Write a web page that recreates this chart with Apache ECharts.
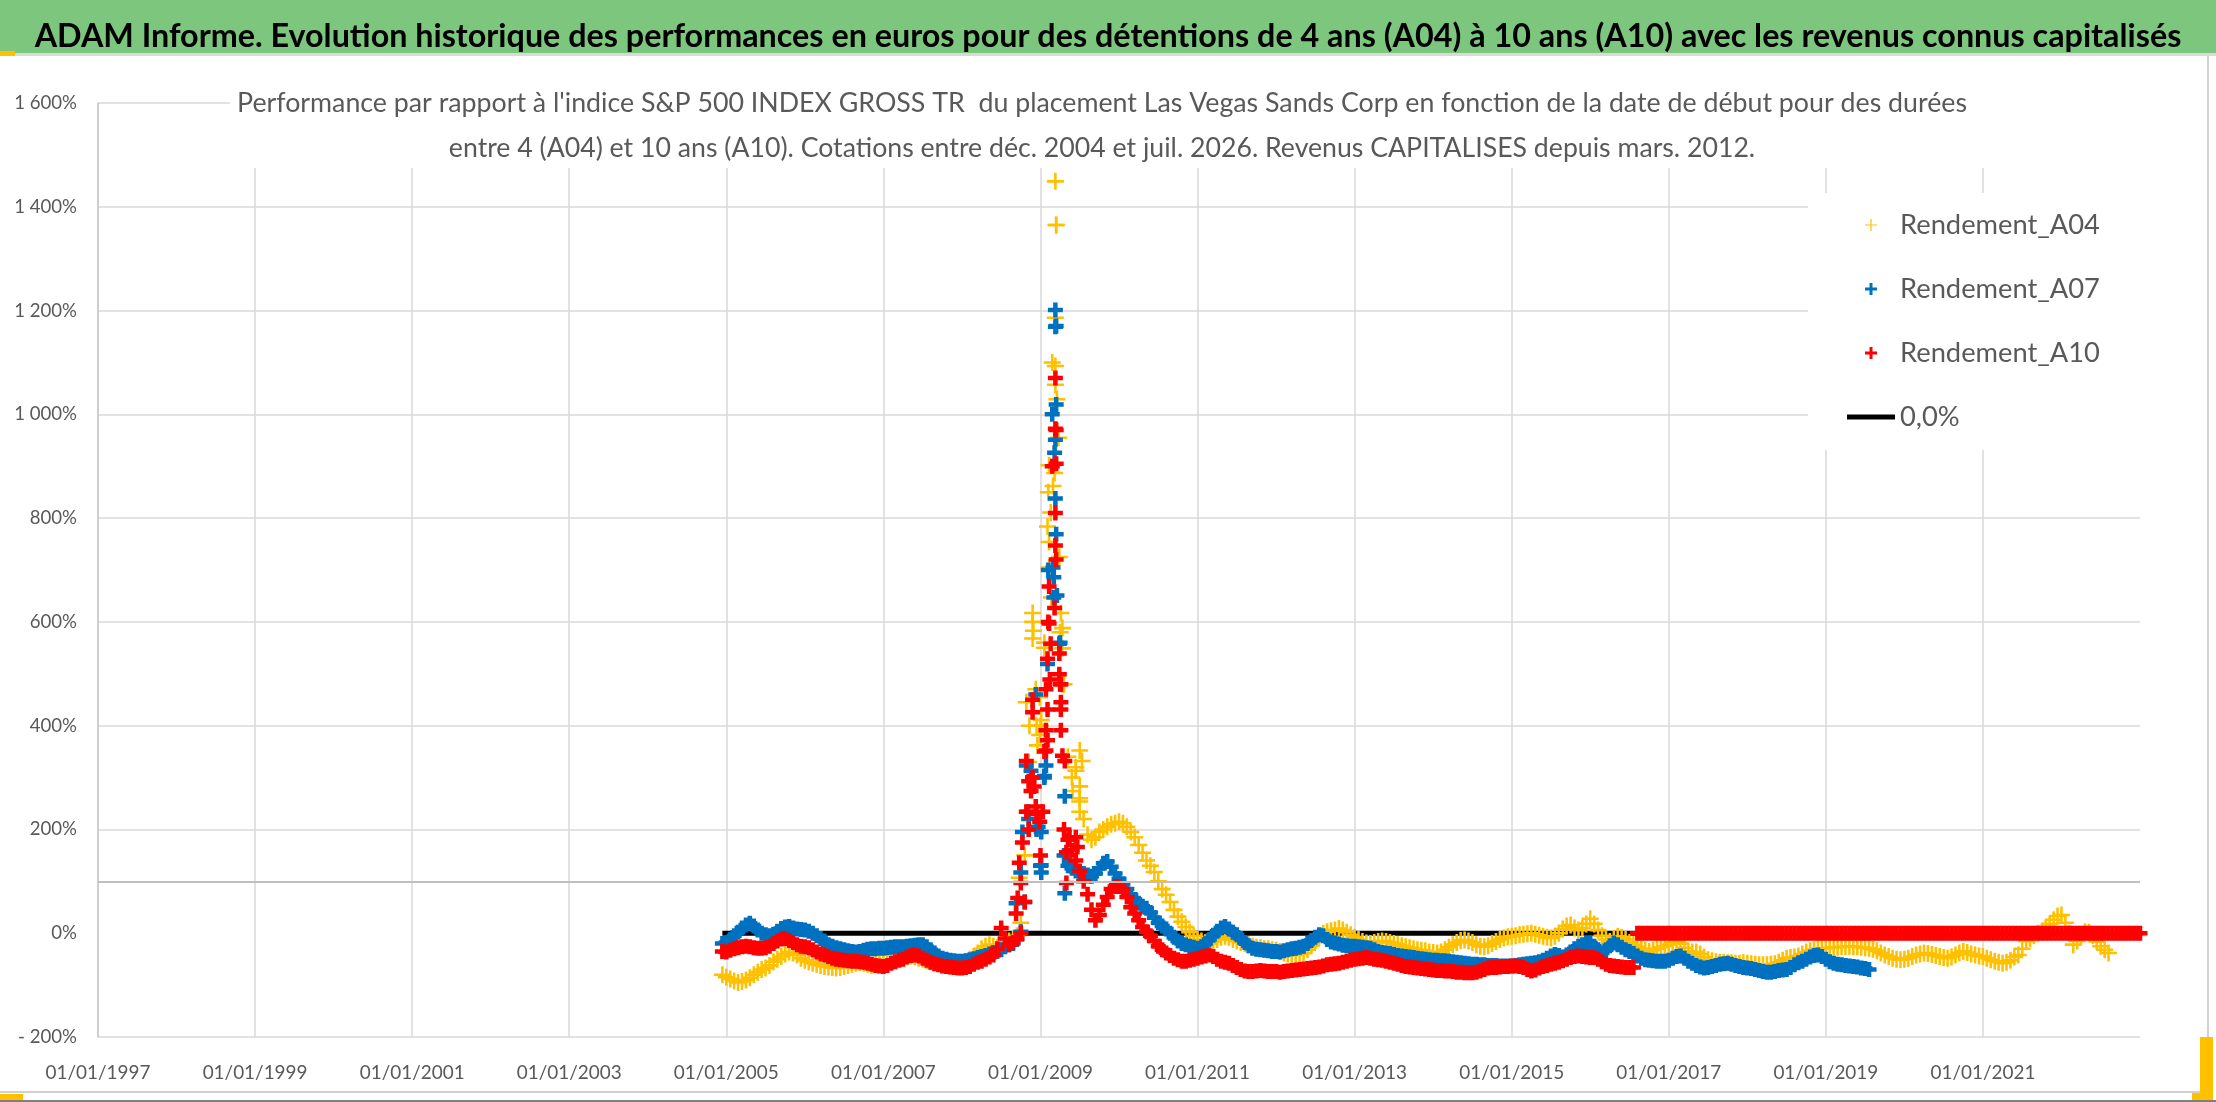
<!DOCTYPE html>
<html>
<head>
<meta charset="utf-8">
<script src="https://cdn.jsdelivr.net/npm/echarts@6/dist/echarts.min.js"></script>
<style>html,body{margin:0;padding:0;background:#fff;}#chart{width:2216px;height:1102px;}</style>
</head>
<body>
<div id="chart"></div>
<script>
// ---------- texts ----------
const TITLE = "ADAM Informe. Evolution historique des performances en euros pour des détentions de 4 ans (A04) à 10 ans (A10) avec les revenus connus capitalisés";
const SUB1 = "Performance par rapport à l'indice S&P 500 INDEX GROSS TR  du placement Las Vegas Sands Corp en fonction de la date de début pour des durées";
const SUB2 = "entre 4 (A04) et 10 ans (A10). Cotations entre déc. 2004 et juil. 2026. Revenus CAPITALISES depuis mars. 2012.";
const SERIES_NAMES = ["Rendement_A04", "Rendement_A07", "Rendement_A10", "0,0%"];

// ---------- axes ----------
const X_MIN = 1997, X_MAX = 2023, X_STEP = 2;
const Y_MIN = -200, Y_MAX = 1600, Y_STEP = 200;

// ---------- data: start dates every 0.05 year from 2004.95 ----------
const START = 2004.95, STEP = 0.05;

const a04 = [
 -80,
 -85,-88,-92,-95,-93,-90,-86,-80,-75,-70,-67,-62,-55,-50,-45,-40,-36,-38,-42,-48,   // 2005
 -52,-55,-58,-60,-62,-64,-65,-66,-67,-66,-64,-62,-60,-58,-57,-58,-60,-62,-60,-58,   // 2006
 -56,-55,-52,-50,-48,-46,-45,-44,-46,-48,-50,-53,-55,-57,-58,-60,-62,-63,-62,-60,   // 2007
 -58,-55,-50,-45,-38,-30,-25,-22,-25,-28,-22,-18,-15,-12,-5,20,150,330,600,400,     // 2008
 400,550,850,1100,1365,580,480,340,300,320,260,220,190,180,185,195,200,205,210,212, // 2009
 215,212,205,195,185,170,155,140,130,118,100,85,74,60,45,32,22,12,2,-5,            // 2010
 -12,-15,-18,-20,-16,-12,-8,-6,-8,-12,-15,-18,-20,-22,-25,-27,-28,-30,-30,-32,      // 2011
 -33,-35,-38,-40,-42,-42,-40,-38,-32,-24,-14,-6,0,3,5,6,9,6,2,-3,                   // 2012
 -8,-12,-16,-19,-20,-18,-16,-15,-16,-18,-20,-22,-24,-26,-28,-30,-32,-33,-34,-36,    // 2013
 -37,-38,-36,-32,-27,-22,-18,-14,-13,-15,-18,-22,-25,-26,-24,-20,-16,-12,-9,-7,     // 2014
 -6,-5,-3,-2,-1,0,-2,-4,-6,-8,-9,-6,0,8,14,16,10,6,10,18,                           // 2015
 28,18,6,-5,-12,-16,-10,-6,-8,-12,-18,-22,-26,-30,-33,-35,-33,-30,-27,-25,          // 2016
 -22,-19,-16,-20,-28,-35,-36,-36,-40,-46,-51,-53,-55,-56,-56,-57,-57,-58,-58,-57,   // 2017
 -58,-59,-60,-61,-61,-61,-60,-59,-56,-52,-48,-47,-46,-44,-40,-36,-34,-32,-30,-29,   // 2018
 -29,-28,-27,-27,-26,-26,-25,-26,-26,-27,-28,-29,-31,-34,-38,-42,-45,-48,-50,-51,   // 2019
 -50,-48,-45,-42,-40,-38,-39,-41,-43,-45,-47,-48,-46,-42,-38,-35,-37,-40,-42,-44,   // 2020
 -45,-48,-51,-54,-56,-58,-56,-52,-46,-42,-30,-15,-10,-5,0,3,10,18,26,33,            // 2021
 35,20,0,-22,-15,-5,3,2,-5,-16,-25,-32,-38                                          // 2022
];

const a07 = [
 -20,
 -18,-12,-5,2,10,16,19,14,6,0,-3,-5,-2,4,9,12,13,10,8,7,                            // 2005
 6,4,0,-5,-10,-15,-22,-25,-28,-30,-32,-34,-35,-36,-35,-33,-31,-30,-30,-29,          // 2006
 -29,-28,-27,-26,-26,-26,-25,-24,-23,-22,-22,-26,-32,-38,-44,-48,-50,-52,-53,-54,   // 2007
 -54,-53,-51,-49,-47,-45,-43,-40,-37,-35,-32,-26,-22,-20,-12,3,60,220,300,200,      // 2008
 130,300,700,1000,1170,560,150,130,125,120,118,115,112,110,115,125,135,138,128,115, // 2009
 105,95,85,74,65,58,52,48,40,30,20,14,8,0,-8,-15,-20,-22,-25,-27,                   // 2010
 -29,-26,-20,-12,-4,4,10,13,8,2,-3,-10,-18,-24,-29,-31,-32,-33,-34,-35,             // 2011
 -35,-36,-34,-32,-30,-29,-27,-25,-20,-14,-8,-3,-5,-12,-17,-19,-21,-23,-24,-25,      // 2012
 -25,-26,-27,-28,-29,-32,-35,-37,-38,-39,-41,-43,-44,-45,-46,-47,-48,-49,-50,-51,   // 2013
 -52,-52,-53,-53,-54,-55,-56,-57,-58,-59,-60,-60,-61,-61,-62,-62,-62,-63,-63,-63,   // 2014
 -63,-62,-61,-60,-59,-58,-57,-55,-52,-48,-44,-41,-43,-46,-42,-36,-30,-25,-22,-20,   // 2015
 -19,-25,-32,-38,-32,-24,-19,-22,-27,-32,-35,-39,-44,-48,-51,-52,-53,-54,-54,-54,   // 2016
 -52,-48,-45,-44,-48,-54,-58,-62,-65,-67,-66,-64,-62,-60,-59,-58,-60,-62,-64,-66,   // 2017
 -67,-68,-70,-72,-74,-75,-75,-74,-72,-71,-70,-66,-61,-57,-54,-50,-46,-43,-42,-45,   // 2018
 -50,-55,-58,-60,-61,-62,-63,-64,-65,-67,-68,-70                                    // 2019
];

const a10 = [
 -35,
 -36,-33,-30,-28,-26,-25,-26,-28,-29,-29,-28,-25,-20,-15,-11,-10,-14,-18,-22,-25,   // 2005
 -26,-28,-32,-36,-40,-42,-45,-48,-50,-51,-52,-53,-54,-54,-55,-56,-58,-60,-62,-63,   // 2006
 -64,-62,-58,-55,-52,-50,-46,-43,-42,-44,-48,-52,-56,-59,-61,-63,-64,-65,-66,-67,   // 2007
 -67,-66,-64,-60,-56,-54,-50,-46,-42,-30,10,-10,-22,-18,-10,0,60,200,300,230,       // 2008
 150,350,600,900,970,480,200,180,160,140,120,100,75,45,25,35,55,70,85,90,           // 2009
 90,85,70,50,38,25,12,3,-5,-15,-25,-32,-38,-43,-48,-51,-54,-54,-52,-50,             // 2010
 -48,-46,-44,-42,-45,-50,-54,-56,-58,-62,-66,-70,-73,-74,-74,-73,-72,-73,-74,-74,   // 2011
 -74,-75,-74,-73,-72,-71,-70,-69,-68,-67,-66,-65,-63,-61,-60,-59,-58,-56,-54,-52,   // 2012
 -50,-49,-48,-47,-48,-50,-51,-52,-54,-56,-58,-60,-62,-64,-65,-66,-67,-68,-69,-70,   // 2013
 -71,-72,-72,-73,-73,-74,-75,-75,-76,-76,-76,-75,-73,-70,-67,-66,-66,-65,-64,-64,   // 2014
 -63,-63,-64,-66,-70,-73,-71,-67,-64,-62,-60,-58,-56,-53,-50,-47,-45,-44,-45,-46,   // 2015
 -47,-47,-50,-55,-60,-62,-63,-64,-65,-66,-66,-66,                                   // 2016 (real)
 0,0,0,0,0,0,0,0,                                                                   // 2016 (zeros)
 0,0,0,0,0,0,0,0,0,0,0,0,0,0,0,0,0,0,0,0,                                           // 2017
 0,0,0,0,0,0,0,0,0,0,0,0,0,0,0,0,0,0,0,0,                                           // 2018
 0,0,0,0,0,0,0,0,0,0,0,0,0,0,0,0,0,0,0,0,                                           // 2019
 0,0,0,0,0,0,0,0,0,0,0,0,0,0,0,0,0,0,0,0,                                           // 2020
 0,0,0,0,0,0,0,0,0,0,0,0,0,0,0,0,0,0,0,0,                                           // 2021
 0,0,0,0,0,0,0,0,0,0,0,0,0,0,0,0,0,0,0,0,                                           // 2022
 0                                                                                  // 2023
];

// dense scattered points around the 2008-2009 peak: [start date (year), value %]
const peakA04 = [[2008.73,107],[2008.82,445],[2008.86,400],[2008.90,617],[2008.91,583],[2008.90,568],[2008.94,470],[2008.96,362],[2008.99,382],[2008.99,455],[2009.01,411],[2009.05,560],[2009.09,784],[2009.11,902],[2009.11,754],[2009.11,705],[2009.13,811],[2009.14,647],[2009.16,862],[2009.18,887],[2009.19,1093],[2009.19,1186],[2009.19,1449],[2009.20,1365],[2009.19,1057],[2009.21,1029],[2009.23,955],[2009.24,725],[2009.26,617],[2009.28,588],[2009.28,549],[2009.28,480],[2009.41,274],[2009.45,313],[2009.50,352],[2009.50,283],[2009.50,254],[2009.50,234],[2009.53,332]];
const peakA07 = [[2008.69,58],[2008.75,117],[2008.77,195],[2008.82,323],[2008.84,234],[2008.88,313],[2008.94,460],[2008.97,205],[2009.01,195],[2009.01,131],[2009.01,117],[2009.05,303],[2009.07,323],[2009.09,519],[2009.16,705],[2009.17,686],[2009.17,647],[2009.18,926],[2009.19,838],[2009.19,951],[2009.19,1169],[2009.19,1201],[2009.20,1019],[2009.20,769],[2009.21,651],[2009.24,558],[2009.31,264],[2009.31,77],[2009.37,136]];
const peakA10 = [[2008.69,38],[2008.71,68],[2008.73,136],[2008.75,97],[2008.77,175],[2008.82,332],[2008.82,234],[2008.85,293],[2008.88,274],[2008.90,450],[2008.90,426],[2008.92,283],[2008.94,244],[2008.99,215],[2009.03,234],[2009.07,470],[2009.07,391],[2009.07,352],[2009.09,431],[2009.09,529],[2009.09,372],[2009.11,668],[2009.11,597],[2009.12,489],[2009.13,558],[2009.18,627],[2009.19,747],[2009.19,810],[2009.19,972],[2009.19,1070],[2009.20,905],[2009.20,720],[2009.24,539],[2009.24,499],[2009.26,480],[2009.26,445],[2009.26,431],[2009.26,391],[2009.28,342],[2009.31,332],[2009.33,97],[2009.33,156],[2009.37,185],[2009.45,185],[2009.47,166]];

// 0 % reference line (start/end dates)
const zeroLine = [[2004.95, 0], [2016.57, 0]];
const REF_LEVEL = 100;

// ---------- styling ----------
const FONT = "Lato, 'Open Sans', sans-serif";
const COLORS = ['#ffc000', '#0070c0', '#ff0000', '#000000'];
const PLUS_THIN = 'path://M8.5,0H11.5V8.5H20V11.5H11.5V20H8.5V11.5H0V8.5H8.5Z';
const PLUS = 'path://M7,0H13V7H20V13H13V20H7V13H0V7H7Z';
const PLUS_ICON = 'path://M7.5,0H12.5V7.5H20V12.5H12.5V20H7.5V12.5H0V7.5H7.5Z';
const THIN_ICON = 'path://M9,0H11V9H20V11H11V20H9V11H0V9H9Z';
const LINE_ICON = 'path://M0,0H48V5H0Z';

const ctx = document.createElement('canvas').getContext('2d');
function fitSize(text, weight, width) {
  ctx.font = weight + ' 100px ' + FONT;
  return 100 * width / ctx.measureText(text).width;
}
const titleSize = fitSize(TITLE, 'bold', 2147);
const sub1Size = fitSize(SUB1, 'normal', 1730);
const sub2Size = fitSize(SUB2, 'normal', 1307);
const xLabSize = Math.min(22, fitSize('01/01/1997', 'normal', 105));
const yLabSize = Math.min(22, fitSize('- 200%', 'normal', 59));
const legSize = fitSize('Rendement_A04', 'normal', 200);

function toPts(arr) {
  const out = [];
  arr.forEach((v, i) => { if (v != null) out.push([+(START + i * STEP).toFixed(2), v]); });
  return out;
}
function fmtPct(v) {
  const a = Math.abs(v);
  const s = a >= 1000 ? Math.floor(a / 1000) + ' ' + String(a % 1000).padStart(3, '0') : String(a);
  return (v < 0 ? '- ' : '') + s + '%';
}
const yTickCount = Math.round((Y_MAX - Y_MIN) / Y_STEP) + 1;
const splitColors = [];
for (let k = 0; k < yTickCount; k++) {
  splitColors.push(Y_MIN + k * Y_STEP === 0 ? 'rgba(0,0,0,0)' : '#d9d9d9');
}

const chart = echarts.init(document.getElementById('chart'), null, {renderer: 'canvas'});
chart.setOption({
  animation: false,
  backgroundColor: '#ffffff',
  textStyle: {fontFamily: FONT},
  grid: {left: 98, right: 76, top: 103, bottom: 65, containLabel: false},
  xAxis: {
    type: 'value', min: X_MIN, max: X_MAX, interval: X_STEP,
    axisLine: {show: false}, axisTick: {show: false},
    splitLine: {show: true, showMaxLine: false, lineStyle: {color: '#d9d9d9', width: 1.5}},
    axisLabel: {formatter: v => '01/01/' + v, showMaxLabel: false, color: '#595959',
      fontSize: xLabSize, fontFamily: FONT, margin: 26}
  },
  yAxis: {
    type: 'value', min: Y_MIN, max: Y_MAX, interval: Y_STEP,
    axisLine: {show: true, lineStyle: {color: '#c8c8c8', width: 1.5}}, axisTick: {show: false},
    splitLine: {show: true, lineStyle: {color: splitColors, width: 1.5}},
    axisLabel: {formatter: fmtPct, color: '#595959', fontSize: yLabSize, fontFamily: FONT, margin: 21}
  },
  legend: {
    orient: 'vertical', left: 1808, top: 193,
    padding: [17, 40, 18, 39], backgroundColor: '#ffffff',
    itemWidth: 48, itemHeight: 12, itemGap: 34, selectedMode: false,
    textStyle: {fontSize: legSize, color: '#595959', fontFamily: FONT, lineHeight: 30},
    data: [
      {name: SERIES_NAMES[0], icon: THIN_ICON},
      {name: SERIES_NAMES[1], icon: PLUS_ICON},
      {name: SERIES_NAMES[2], icon: PLUS_ICON},
      {name: SERIES_NAMES[3], icon: LINE_ICON}
    ]
  },
  series: [
    {name: SERIES_NAMES[0], type: 'scatter', data: toPts(a04).concat(peakA04), symbol: PLUS_THIN,
     symbolSize: 17, itemStyle: {color: COLORS[0], opacity: 1}, z: 2, silent: true},
    {name: SERIES_NAMES[1], type: 'scatter', data: toPts(a07).concat(peakA07), symbol: PLUS,
     symbolSize: 15, itemStyle: {color: COLORS[1], opacity: 1}, z: 3, silent: true},
    {name: SERIES_NAMES[2], type: 'scatter', data: toPts(a10).concat(peakA10), symbol: PLUS,
     symbolSize: 15, itemStyle: {color: COLORS[2], opacity: 1}, z: 4, silent: true},
    {name: SERIES_NAMES[3], type: 'line', data: zeroLine, symbol: 'none', z: 1, silent: true,
     itemStyle: {color: COLORS[3]}, lineStyle: {color: COLORS[3], width: 5},
     markLine: {silent: true, symbol: 'none', label: {show: false},
       lineStyle: {color: '#bfbfbf', width: 2, type: 'solid'}, data: [{yAxis: REF_LEVEL}]}}
  ],
  graphic: [
    {type: 'rect', z: 10, shape: {x: 0, y: 0, width: 2216, height: 53}, style: {fill: '#7dc67e'}},
    {type: 'rect', z: 10, shape: {x: 0, y: 53, width: 2216, height: 3}, style: {fill: '#d9d9d9'}},
    {type: 'rect', z: 11, shape: {x: 0, y: 51, width: 15, height: 5}, style: {fill: '#ffc000'}},
    {type: 'rect', z: 10, shape: {x: 230, y: 60, width: 1920, height: 108}, style: {fill: '#ffffff'}},
    {type: 'text', z: 12, x: 1108, y: 47 - 0.33 * titleSize,
     style: {text: TITLE, fontSize: titleSize, fontWeight: 'bold', fontFamily: FONT, fill: '#000000', align: 'center', verticalAlign: 'middle'}},
    {type: 'text', z: 12, x: 1102, y: 112 - 0.33 * sub1Size,
     style: {text: SUB1, fontSize: sub1Size, fontFamily: FONT, fill: '#595959', align: 'center', verticalAlign: 'middle'}},
    {type: 'text', z: 12, x: 1102, y: 157 - 0.33 * sub2Size,
     style: {text: SUB2, fontSize: sub2Size, fontFamily: FONT, fill: '#595959', align: 'center', verticalAlign: 'middle'}},
    {type: 'rect', z: 10, shape: {x: 2207, y: 56, width: 2, height: 1036}, style: {fill: '#d0d0d0'}},
    {type: 'rect', z: 10, shape: {x: 0, y: 1091, width: 2209, height: 2}, style: {fill: '#d0d0d0'}},
    {type: 'rect', z: 10, shape: {x: 0, y: 1100, width: 2216, height: 2}, style: {fill: '#7f7f7f'}},
    {type: 'rect', z: 11, shape: {x: 0, y: 1094, width: 23, height: 6}, style: {fill: '#ffc000'}},
    {type: 'rect', z: 11, shape: {x: 2200, y: 1037, width: 13, height: 63}, style: {fill: '#ffc000'}},
    {type: 'rect', z: 11, shape: {x: 2192, y: 1093, width: 21, height: 7}, style: {fill: '#ffc000'}}
  ]
});
</script>
</body>
</html>
